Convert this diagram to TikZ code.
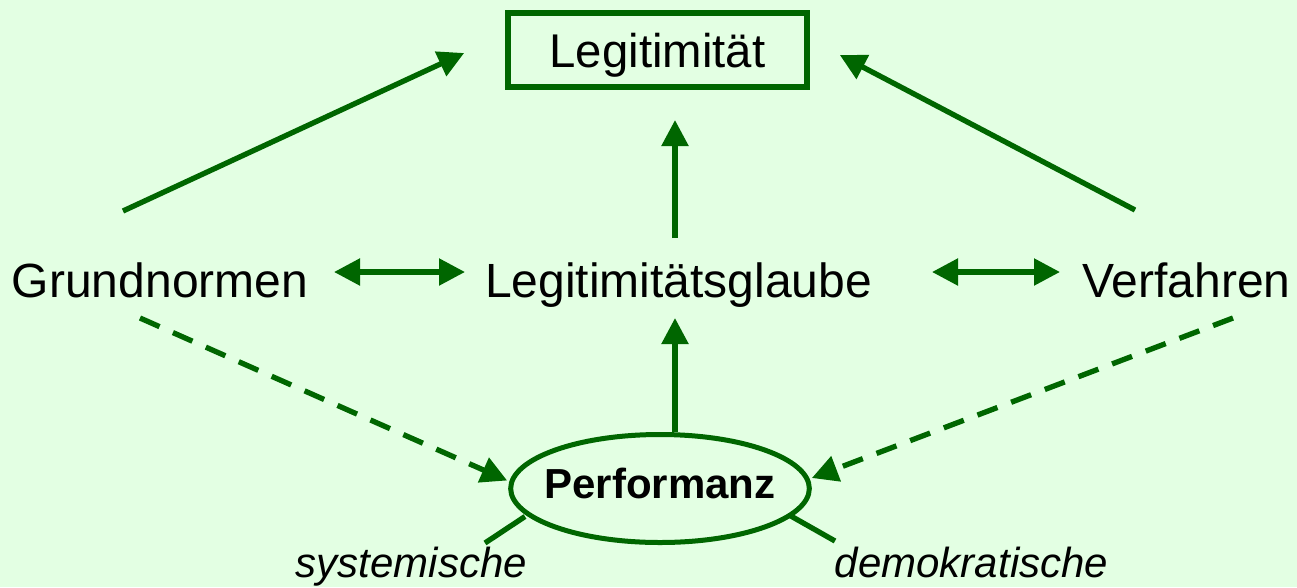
\documentclass[tikz,border=0pt]{standalone}
\usepackage{fontspec}
\setmainfont{Liberation Sans}
\usetikzlibrary{arrows.meta,shapes.geometric}

\definecolor{bgmint}{RGB}{227,255,227}
\definecolor{dkgreen}{RGB}{0,102,0}

\tikzset{>={Triangle[length=19.5pt,width=19.5pt]}}

\begin{document}
\begin{tikzpicture}[x=0.75pt,y=-0.75pt]

        \fill[bgmint] (0,0) rectangle (1297,587);
        \useasboundingbox (0,0) rectangle (1297,587);

        \begin{scope}[every node/.style={anchor=base, font=\fontsize{36}{42}\selectfont}]
          \node (grund)  at (160,297)    {Grundnormen};
          \node (glaube) at (678.5,297)  {Legitimitätsglaube};
          \node (verf)   at (1186.5,297) {Verfahren};
        \end{scope}

        \node[draw=dkgreen, line width=4.5pt, minimum width=224pt, minimum height=55.5pt,
              text height=34pt, font=\fontsize{35.5}{42}\selectfont] (legit) at (657.5,50) {Legitimität};
        \node[ellipse, draw=dkgreen, line width=3.75pt, inner sep=0pt, minimum width=224pt,
              minimum height=81pt,
              label={[font=\fontsize{31.5}{38}\bfseries, yshift=4pt]center:Performanz}] (perf) at (660,488.5) {};

        \begin{scope}[every node/.style={anchor=base, font=\fontsize{31.5}{38}\itshape}]
          \node (syst) at (411.5,577) {systemische};
          \node (demo) at (971.5,577) {demokratische};
        \end{scope}

        \begin{scope}[every edge/.style={draw=dkgreen, line width=4pt}]
          \path ([shift={(-37,-86)}]grund.base) edge[->] ([shift={(-41,3)}]legit.west);
          \path ([shift={(-51.5,-87)}]verf.base) edge[->] ([shift={(30,5)}]legit.east);
          \path ([shift={(-3.5,-59)}]glaube.base) edge[->] ([shift={(17.5,30)}]legit.south);
          \path ([shift={(15,0)}]perf.north) edge[->] ([shift={(-3.5,21)}]glaube.base);
          \path ([shift={(174,-25)}]grund.base) edge[<->] ([shift={(-213.5,-25)}]glaube.base);
          \path ([shift={(253.5,-25)}]glaube.base) edge[<->] ([shift={(-126.5,-25)}]verf.base);
          \path ([shift={(-20,21)}]grund.base) edge[->, dash pattern=on 16pt off 11pt] ([shift={(-1,-8)}]perf.west);
          \path ([shift={(46.5,21)}]verf.base) edge[->, dash pattern=on 16pt off 11pt] ([shift={(0,-10.5)}]perf.east);
          \path ([shift={(73.5,-34)}]syst.base) edge ([shift={(-135,28)}]perf.center);
          \path ([shift={(-136.5,-36)}]demo.base) edge ([shift={(130,27)}]perf.center);
        \end{scope}

      \end{tikzpicture}
\end{document}
